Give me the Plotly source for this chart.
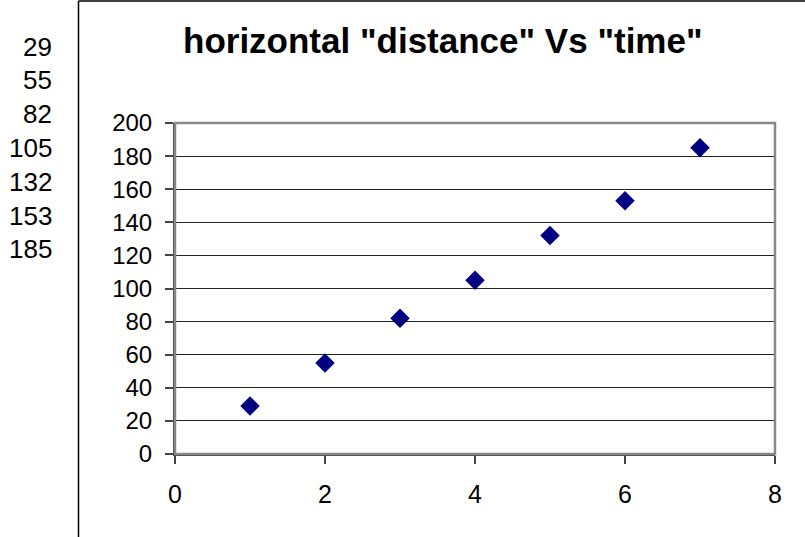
import plotly.graph_objects as go

time = [1, 2, 3, 4, 5, 6, 7]
distance = [29, 55, 82, 105, 132, 153, 185]
title_text = 'horizontal "distance" Vs "time"'

W, H = 805, 537
L, R, T, B = 175, 30, 123, 83
pw, ph = W - L - R, H - T - B

def px_x(x):
    return (x - L) / pw

def px_y(y):
    return (H - B - y) / ph

FONT = "Liberation Sans, Arial"

fig = go.Figure()
fig.add_trace(go.Scatter(
    x=time, y=distance, mode="markers",
    marker=dict(symbol="diamond", size=15, color="#000080",
                line=dict(width=0)),
    hoverinfo="x+y", showlegend=False,
))

shapes = [
    dict(type="rect", xref="paper", yref="paper", x0=0, x1=1, y0=0, y1=1,
         line=dict(color="#888888", width=2.5), layer="above"),
    dict(type="line", xref="paper", yref="paper", x0=px_x(78.5), x1=px_x(78.5),
         y0=px_y(H + 5), y1=px_y(1), line=dict(color="#000000", width=1.5)),
    dict(type="line", xref="paper", yref="paper", x0=px_x(78.5), x1=px_x(W + 5),
         y0=px_y(1), y1=px_y(1), line=dict(color="#000000", width=1.5)),
]

annotations = [
    dict(text="<b>" + title_text + "</b>", xref="paper", yref="paper",
         x=px_x(443), y=px_y(40), showarrow=False,
         xanchor="center", yanchor="middle",
         font=dict(family=FONT, size=35, color="#000000")),
]

row0, row_step = 46.5, 33.8
for i, v in enumerate(distance):
    annotations.append(dict(
        text=str(v), xref="paper", yref="paper",
        x=px_x(54), y=px_y(row0 + i * row_step), showarrow=False,
        xanchor="right", yanchor="middle",
        font=dict(family=FONT, size=26, color="#000000"),
    ))

fig.update_layout(
    width=W, height=H,
    margin=dict(l=L, r=R, t=T, b=B, pad=0),
    paper_bgcolor="#ffffff", plot_bgcolor="#ffffff",
    font=dict(family=FONT, size=24, color="#000000"),
    shapes=shapes, annotations=annotations,
    xaxis=dict(range=[0, 8], dtick=2, tick0=0, showgrid=False, zeroline=False,
               showline=True, linecolor="#444444", linewidth=2,
               ticks="outside", ticklen=8, tickcolor="#444444", tickwidth=1.5,
               tickfont=dict(size=25), ticklabelstandoff=9),
    yaxis=dict(range=[0, 200], dtick=20, tick0=0, showgrid=True,
               gridcolor="#222222", gridwidth=1, zeroline=False,
               showline=True, linecolor="#444444", linewidth=2,
               ticks="outside", ticklen=8, tickcolor="#444444", tickwidth=1.5,
               tickfont=dict(size=24), ticklabelstandoff=8),
)

fig.write_html("out.html", config={"displayModeBar": False},
               post_script="document.body.style.margin='0';document.body.style.overflow='hidden';")
